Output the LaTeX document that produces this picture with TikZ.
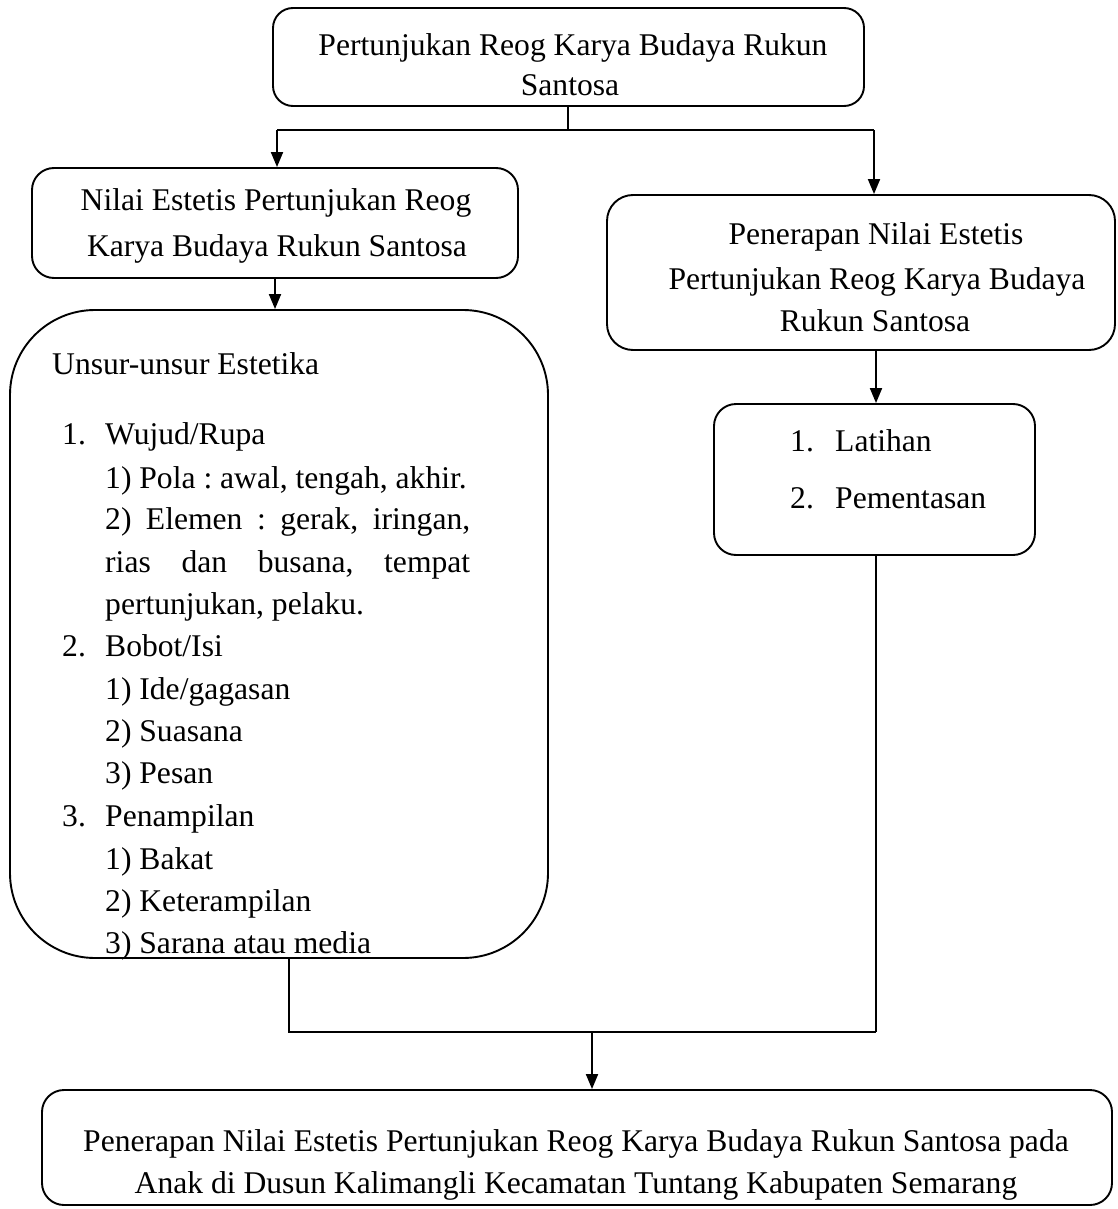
\documentclass[tikz,border=0pt]{standalone}
\usepackage{fontspec}
\setmainfont{Liberation Serif}
\usetikzlibrary{arrows.meta}
\frenchspacing
\begin{document}
\begin{tikzpicture}[x=1pt,y=-1pt,
  box/.style={draw,line width=1.9pt,rectangle,inner sep=0pt},
  txt/.style={anchor=base,inner sep=0pt,font=\fontsize{31.6}{42}\selectfont},
  ltxt/.style={anchor=base west,inner sep=0pt,font=\fontsize{31.6}{42}\selectfont},
  conn/.style={line width=1.9pt},
  arr/.style={line width=1.9pt,-{Triangle[length=15pt,width=12pt]}}]
\useasboundingbox (0,0) rectangle (1118,1209);
% boxes
\node[box,rounded corners=20pt,minimum width=591pt,minimum height=98pt] (top) at (568.5,57) {};
\node[box,rounded corners=22pt,minimum width=486pt,minimum height=110pt] (nilai) at (275,223) {};
\node[box,rounded corners=85pt,minimum width=538pt,minimum height=648pt] (unsur) at (279,634) {};
\node[box,rounded corners=26pt,minimum width=508pt,minimum height=155pt] (pen) at (861,272.5) {};
\node[box,rounded corners=22pt,minimum width=321pt,minimum height=151pt] (lat) at (874.5,479.5) {};
\node[box,rounded corners=22pt,minimum width=1070pt,minimum height=115pt] (fin) at (577,1147.5) {};
% texts
\node[txt] (t1) at (573,56) {Pertunjukan Reog Karya Budaya Rukun};
\node[txt] (t2) at (570,96) {Santosa};
\node[txt] (n1) at (276,211) {Nilai Estetis Pertunjukan Reog};
\node[txt] (n2) at (277,256) {Karya Budaya Rukun Santosa};
\node[txt] (p1) at (876,244) {Penerapan Nilai Estetis};
\node[txt] (p2) at (877,289) {Pertunjukan Reog Karya Budaya};
\node[txt] (p3) at (875,331) {Rukun Santosa};
\node[ltxt] (u0) at (52,374) {Unsur-unsur Estetika};
\node[ltxt] (u1n) at (62,444) {1.};
\node[ltxt] (u1) at (105,444) {Wujud/Rupa};
\node[ltxt] (u11) at (105,488) {1) Pola : awal, tengah, akhir.};
\node[ltxt] (u12) at (105,529) {\makebox[365pt][s]{2) Elemen : gerak, iringan,}};
\node[ltxt] (u13) at (105,572) {\makebox[365pt][s]{rias dan busana, tempat}};
\node[ltxt] (u14) at (105,614) {pertunjukan, pelaku.};
\node[ltxt] (u2n) at (62,656) {2.};
\node[ltxt] (u2) at (105,656) {Bobot/Isi};
\node[ltxt] (u21) at (105,699) {1) Ide/gagasan};
\node[ltxt] (u22) at (105,741) {2) Suasana};
\node[ltxt] (u23) at (105,783) {3) Pesan};
\node[ltxt] (u3n) at (62,826) {3.};
\node[ltxt] (u3) at (105,826) {Penampilan};
\node[ltxt] (u31) at (105,869) {1) Bakat};
\node[ltxt] (u32) at (105,911) {2) Keterampilan};
\node[ltxt] (u33) at (105,953) {3) Sarana atau media};
\node[ltxt] (l1n) at (790,451) {1.};
\node[ltxt] (l1) at (835,451) {Latihan};
\node[ltxt] (l2n) at (790,508) {2.};
\node[ltxt] (l2) at (835,508) {Pementasan};
\node[txt] (f1) at (576,1151) {Penerapan Nilai Estetis Pertunjukan Reog Karya Budaya Rukun Santosa pada};
\node[txt] (f2) at (576,1193) {Anak di Dusun Kalimangli Kecamatan Tuntang Kabupaten Semarang};
% connectors
\coordinate (split) at (568,130);
\coordinate (splitL) at (277,130);
\coordinate (splitR) at (874,130);
\coordinate (join) at (592,1032);
\coordinate (joinL) at (289,1032);
\coordinate (joinR) at (876,1032);
\draw[conn] (top.south -| split) -- (split);
\draw[conn] (splitL) -- (splitR);
\draw[arr] (splitL) -- (splitL |- nilai.north);
\draw[arr] (splitR) -- (splitR |- pen.north);
\draw[arr] (nilai.south -| 275,0) -- (unsur.north -| 275,0);
\draw[arr] (pen.south -| 876,0) -- (lat.north -| 876,0);
\draw[conn] (lat.south -| joinR) -- (joinR);
\draw[conn] (unsur.south -| joinL) -- (joinL) -- (joinR);
\draw[arr] (join) -- (join |- fin.north);
\end{tikzpicture}
\end{document}
